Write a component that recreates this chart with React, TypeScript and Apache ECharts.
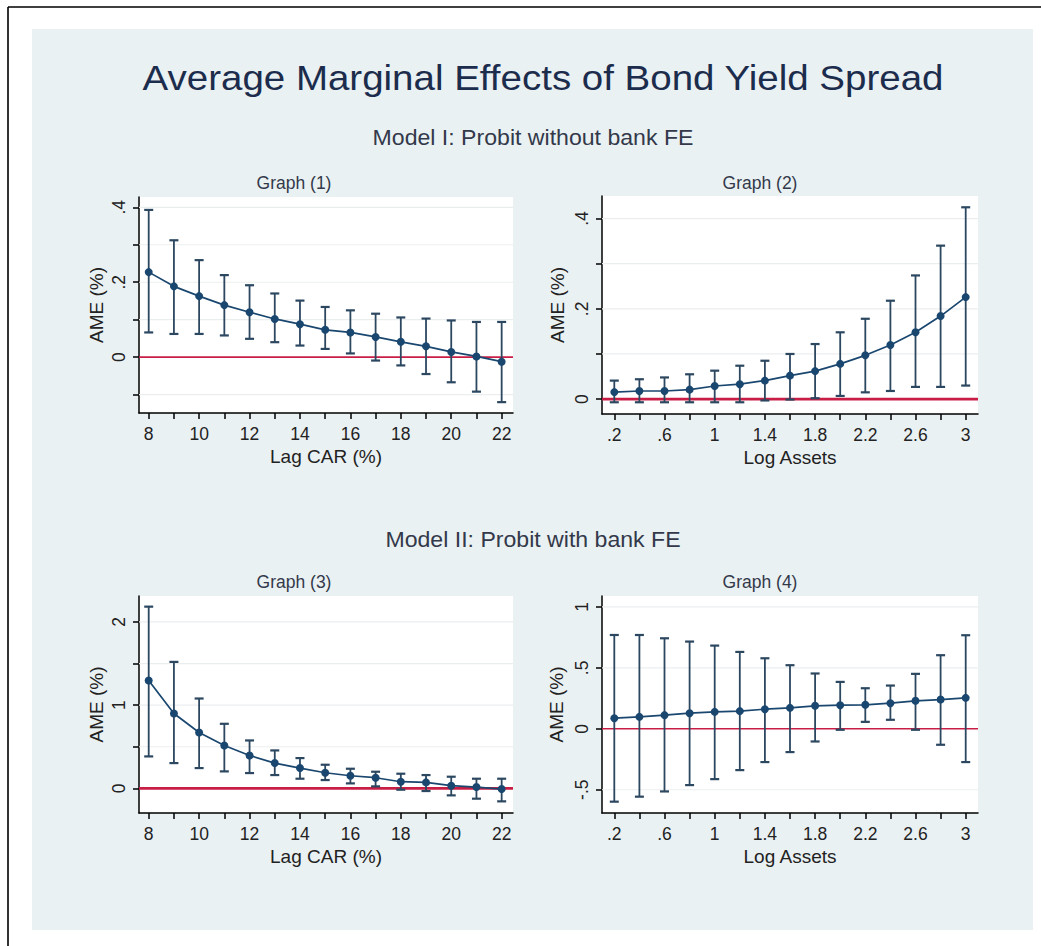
import React, { useEffect, useRef } from "react";
import * as echarts from "echarts";

// ---------- data ----------
const lagCar = [8, 9, 10, 11, 12, 13, 14, 15, 16, 17, 18, 19, 20, 21, 22];
const logAssets = [0.2, 0.4, 0.6, 0.8, 1.0, 1.2, 1.4, 1.6, 1.8, 2.0, 2.2, 2.4, 2.6, 2.8, 3.0];

// Graph (1): Model I, Lag CAR
const g1Est = [0.227, 0.189, 0.163, 0.139, 0.12, 0.102, 0.088, 0.073, 0.066, 0.054, 0.041, 0.029, 0.014, 0.002, -0.012];
const g1Lo = [0.066, 0.062, 0.062, 0.058, 0.049, 0.04, 0.031, 0.022, 0.01, -0.009, -0.022, -0.045, -0.067, -0.092, -0.12];
const g1Hi = [0.393, 0.312, 0.259, 0.219, 0.192, 0.17, 0.151, 0.134, 0.125, 0.116, 0.106, 0.103, 0.098, 0.094, 0.094];

// Graph (2): Model I, Log Assets
const g2Est = [0.0155, 0.018, 0.018, 0.021, 0.029, 0.033, 0.041, 0.052, 0.062, 0.078, 0.097, 0.12, 0.148, 0.184, 0.226];
const g2Lo = [-0.007, -0.007, -0.007, -0.007, -0.007, -0.007, -0.003, -0.001, 0.002, 0.007, 0.015, 0.018, 0.027, 0.027, 0.03];
const g2Hi = [0.041, 0.044, 0.048, 0.055, 0.063, 0.074, 0.085, 0.1, 0.122, 0.148, 0.178, 0.218, 0.274, 0.34, 0.425];

// Graph (3): Model II, Lag CAR
const g3Est = [1.296, 0.9, 0.672, 0.516, 0.396, 0.304, 0.244, 0.188, 0.152, 0.128, 0.08, 0.072, 0.032, 0.016, -0.008];
const g3Lo = [0.384, 0.304, 0.244, 0.204, 0.184, 0.16, 0.116, 0.1, 0.06, 0.024, -0.016, -0.032, -0.084, -0.124, -0.156];
const g3Hi = [2.184, 1.52, 1.08, 0.776, 0.576, 0.456, 0.364, 0.284, 0.236, 0.2, 0.176, 0.16, 0.14, 0.116, 0.116];

// Graph (4): Model II, Log Assets
const g4Est = [0.087, 0.098, 0.112, 0.128, 0.139, 0.145, 0.161, 0.172, 0.189, 0.194, 0.197, 0.21, 0.23, 0.24, 0.254];
const g4Lo = [-0.598, -0.557, -0.514, -0.462, -0.413, -0.339, -0.273, -0.191, -0.104, -0.008, 0.057, 0.074, -0.008, -0.131, -0.273];
const g4Hi = [0.77, 0.77, 0.743, 0.716, 0.683, 0.631, 0.579, 0.522, 0.454, 0.385, 0.333, 0.355, 0.451, 0.604, 0.768];

// tick values / labels
const carTicks = [8, 9, 10, 11, 12, 13, 14, 15, 16, 17, 18, 19, 20, 21, 22];
const carLabels = [8, 10, 12, 14, 16, 18, 20, 22];
const assetTicks = [0.2, 0.4, 0.6, 0.8, 1.0, 1.2, 1.4, 1.6, 1.8, 2.0, 2.2, 2.4, 2.6, 2.8, 3.0];
const assetLabels = [0.2, 0.6, 1.0, 1.4, 1.8, 2.2, 2.6, 3.0];
const y1Ticks = [-0.1, 0, 0.1, 0.2, 0.3, 0.4];
const y1Labels = [0, 0.2, 0.4];
const y2Ticks = [0, 0.1, 0.2, 0.3, 0.4];
const y2Labels = [0, 0.2, 0.4];
const y3Ticks = [0, 0.5, 1, 1.5, 2];
const y3Labels = [0, 1, 2];
const y4Ticks = [-0.5, 0, 0.5, 1];
const y4Labels = [-0.5, 0, 0.5, 1];

const titleText = "Average Marginal Effects of Bond Yield Spread";
const model1Text = "Model I: Probit without bank FE";
const model2Text = "Model II: Probit with bank FE";
const graphTitles = ["Graph (1)", "Graph (2)", "Graph (3)", "Graph (4)"];
const xNames = ["Lag CAR (%)", "Log Assets", "Lag CAR (%)", "Log Assets"];
const yName = "AME (%)";

// ---------- styling ----------
const FONT = "'Liberation Sans', Arial, Helvetica, sans-serif";
const NAVY = "#1a476f";
const BAR = "#2c4760";
const RED = "#c81e46";
const GRIDC = "#ebeeef";

function fmt(v: number): string {
  const r = Math.round(v * 100) / 100;
  let s = String(r);
  s = s.replace(/^0\./, ".").replace(/^-0\./, "-.");
  return s;
}

type Panel = {
  rect: { left: number; top: number; width: number; height: number };
  x: number[];
  est: number[];
  lo: number[];
  hi: number[];
  xMin: number;
  xMax: number;
  yMin: number;
  yMax: number;
  xTicks: number[];
  xLabels: number[];
  yTicks: number[];
  yLabels: number[];
  zeroWidth: number;
  yNameGap: number;
};

const panels: Panel[] = [
  {
    rect: { left: 139, top: 197, width: 374, height: 216 },
    x: lagCar, est: g1Est, lo: g1Lo, hi: g1Hi,
    xMin: 7.615, xMax: 22.45, yMin: -0.149, yMax: 0.4275,
    xTicks: carTicks, xLabels: carLabels, yTicks: y1Ticks, yLabels: y1Labels,
    zeroWidth: 1.6, yNameGap: 33,
  },
  {
    rect: { left: 602, top: 196, width: 376, height: 218 },
    x: logAssets, est: g2Est, lo: g2Lo, hi: g2Hi,
    xMin: 0.102, xMax: 3.098, yMin: -0.033, yMax: 0.45,
    xTicks: assetTicks, xLabels: assetLabels, yTicks: y2Ticks, yLabels: y2Labels,
    zeroWidth: 2.6, yNameGap: 35,
  },
  {
    rect: { left: 139, top: 596, width: 374, height: 217 },
    x: lagCar, est: g3Est, lo: g3Lo, hi: g3Hi,
    xMin: 7.615, xMax: 22.45, yMin: -0.296, yMax: 2.312,
    xTicks: carTicks, xLabels: carLabels, yTicks: y3Ticks, yLabels: y3Labels,
    zeroWidth: 2.6, yNameGap: 33,
  },
  {
    rect: { left: 602, top: 596, width: 376, height: 217 },
    x: logAssets, est: g4Est, lo: g4Lo, hi: g4Hi,
    xMin: 0.102, xMax: 3.098, yMin: -0.691, yMax: 1.09,
    xTicks: assetTicks, xLabels: assetLabels, yTicks: y4Ticks, yLabels: y4Labels,
    zeroWidth: 1.6, yNameGap: 36,
  },
];

function buildOption() {
  const grid: any[] = [];
  const xAxis: any[] = [];
  const yAxis: any[] = [];
  const series: any[] = [];

  panels.forEach((p, i) => {
    grid.push({
      ...p.rect,
      show: true,
      backgroundColor: "#ffffff",
      borderWidth: 0,
      containLabel: false,
    });
    xAxis.push({
      type: "value",
      gridIndex: i,
      min: p.xMin,
      max: p.xMax,
      name: xNames[i],
      nameLocation: "middle",
      nameGap: 34,
      nameTextStyle: { fontFamily: FONT, fontSize: 19, color: "#222" },
      axisLine: { show: true, onZero: false, lineStyle: { color: "#000", width: 1.5 } },
      axisTick: { show: true, length: 6, lineStyle: { color: "#000", width: 1.5 }, customValues: p.xTicks },
      axisLabel: {
        show: true,
        customValues: p.xLabels,
        margin: 12,
        fontFamily: FONT,
        fontSize: 17.5,
        color: "#222",
        formatter: (v: number) => fmt(v),
      },
      splitLine: { show: false },
    });
    yAxis.push({
      type: "value",
      gridIndex: i,
      min: p.yMin,
      max: p.yMax,
      name: yName,
      nameLocation: "middle",
      nameGap: p.yNameGap,
      nameRotate: 90,
      nameTextStyle: { fontFamily: FONT, fontSize: 19, color: "#222" },
      axisLine: { show: true, onZero: false, lineStyle: { color: "#000", width: 1.5 } },
      axisTick: { show: true, length: 6, lineStyle: { color: "#000", width: 1.5 }, customValues: p.yTicks },
      axisLabel: {
        show: true,
        customValues: p.yLabels,
        rotate: 90,
        margin: 11,
        fontFamily: FONT,
        fontSize: 17.5,
        color: "#222",
        formatter: (v: number) => fmt(v),
      },
      splitLine: { show: false },
    });

    // light gridlines at every tick value except zero
    const gridVals = p.yTicks.filter((v) => v !== 0);
    series.push({
      type: "custom",
      xAxisIndex: i,
      yAxisIndex: i,
      z: 1,
      silent: true,
      data: gridVals.map((v) => [p.xMin, v]),
      encode: { x: 0, y: 1 },
      renderItem: (params: any, api: any) => {
        const cs = params.coordSys;
        const pt = api.coord([api.value(0), api.value(1)]);
        return {
          type: "line",
          shape: { x1: cs.x, y1: pt[1], x2: cs.x + cs.width, y2: pt[1] },
          style: { stroke: GRIDC, lineWidth: 1.2 },
        };
      },
    });
    // red reference line at zero
    series.push({
      type: "custom",
      xAxisIndex: i,
      yAxisIndex: i,
      z: 2,
      silent: true,
      data: [[p.xMin, 0]],
      encode: { x: 0, y: 1 },
      renderItem: (params: any, api: any) => {
        const cs = params.coordSys;
        const pt = api.coord([api.value(0), api.value(1)]);
        return {
          type: "line",
          shape: { x1: cs.x, y1: pt[1], x2: cs.x + cs.width, y2: pt[1] },
          style: { stroke: RED, lineWidth: p.zeroWidth },
        };
      },
    });
    // confidence interval bars
    series.push({
      type: "custom",
      xAxisIndex: i,
      yAxisIndex: i,
      z: 3,
      silent: true,
      data: p.x.map((x, k) => [x, p.lo[k], p.hi[k]]),
      encode: { x: 0, y: [1, 2] },
      renderItem: (params: any, api: any) => {
        const x = api.value(0);
        const top = api.coord([x, api.value(2)]);
        const bot = api.coord([x, api.value(1)]);
        const w = 4.5;
        const st = { stroke: BAR, lineWidth: 1.8 };
        return {
          type: "group",
          children: [
            { type: "line", shape: { x1: top[0], y1: top[1], x2: bot[0], y2: bot[1] }, style: st },
            { type: "line", shape: { x1: top[0] - w, y1: top[1], x2: top[0] + w, y2: top[1] }, style: { stroke: BAR, lineWidth: 2.2 } },
            { type: "line", shape: { x1: bot[0] - w, y1: bot[1], x2: bot[0] + w, y2: bot[1] }, style: { stroke: BAR, lineWidth: 2.2 } },
          ],
        };
      },
    });
    // point estimates
    series.push({
      type: "line",
      xAxisIndex: i,
      yAxisIndex: i,
      z: 4,
      silent: true,
      data: p.x.map((x, k) => [x, p.est[k]]),
      symbol: "circle",
      symbolSize: 8,
      showSymbol: true,
      itemStyle: { color: NAVY },
      lineStyle: { color: NAVY, width: 1.7 },
    });
  });

  const gTitlePos = [
    [294, 183],
    [760, 183],
    [294, 582],
    [760, 582],
  ];

  const graphic: any[] = [
    {
      type: "rect",
      z: -100,
      silent: true,
      shape: { x: 0, y: 0, width: 1041, height: 946 },
      style: { fill: "#ffffff" },
    },
    {
      type: "rect",
      z: -90,
      silent: true,
      shape: { x: 32, y: 29, width: 1001, height: 901 },
      style: { fill: "#eaf1f3" },
    },
    {
      type: "line",
      z: -80,
      silent: true,
      shape: { x1: 8, y1: 7, x2: 1041, y2: 7 },
      style: { stroke: "#000", lineWidth: 1.6 },
    },
    {
      type: "line",
      z: -80,
      silent: true,
      shape: { x1: 8, y1: 7, x2: 8, y2: 946 },
      style: { stroke: "#000", lineWidth: 1.6 },
    },
    {
      type: "text",
      x: 543,
      y: 78,
      scaleX: 1.1,
      style: {
        text: titleText,
        fontFamily: FONT,
        fontSize: 35,
        fill: "#1c2c4c",
        align: "center",
        verticalAlign: "middle",
      },
    },
    {
      type: "text",
      x: 533,
      y: 138,
      scaleX: 1.05,
      style: {
        text: model1Text,
        fontFamily: FONT,
        fontSize: 22,
        fill: "#33394a",
        align: "center",
        verticalAlign: "middle",
      },
    },
    {
      type: "text",
      x: 533,
      y: 540,
      scaleX: 1.05,
      style: {
        text: model2Text,
        fontFamily: FONT,
        fontSize: 22,
        fill: "#33394a",
        align: "center",
        verticalAlign: "middle",
      },
    },
  ];
  graphTitles.forEach((t, i) => {
    graphic.push({
      type: "text",
      x: gTitlePos[i][0],
      y: gTitlePos[i][1],
      style: {
        text: t,
        fontFamily: FONT,
        fontSize: 17.5,
        fill: "#33394a",
        align: "center",
        verticalAlign: "middle",
      },
    });
  });

  return {
    animation: false,
    backgroundColor: "#ffffff",
    grid,
    xAxis,
    yAxis,
    series,
    graphic,
  };
}

export default function App() {
  const ref = useRef<HTMLDivElement>(null);
  useEffect(() => {
    if (!ref.current) return;
    const chart = echarts.init(ref.current, undefined, { renderer: "svg" });
    chart.setOption(buildOption() as any);
    return () => {
      chart.dispose();
    };
  }, []);
  return (
    <div
      ref={ref}
      style={{ position: "absolute", left: 0, top: 0, width: 1041, height: 946 }}
    />
  );
}
